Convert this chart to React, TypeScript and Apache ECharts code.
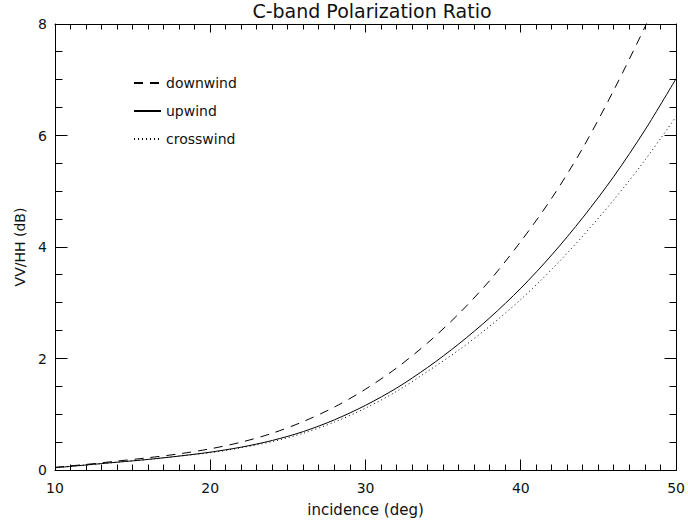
import React, { useEffect, useRef } from "react";
import * as echarts from "echarts";

const incidence = [10, 12, 14, 16, 18, 20, 22, 24, 26, 28, 30, 32, 34, 36, 38, 40, 42, 44, 46, 48, 50];
const downwind = [0.05, 0.1, 0.16, 0.22, 0.29, 0.38, 0.5, 0.66, 0.87, 1.13, 1.45, 1.83, 2.28, 2.8, 3.4, 4.1, 4.88, 5.78, 6.82, 7.95, 9.15];
const upwind = [0.04, 0.09, 0.14, 0.19, 0.25, 0.32, 0.41, 0.53, 0.69, 0.9, 1.16, 1.47, 1.84, 2.26, 2.73, 3.26, 3.86, 4.53, 5.27, 6.1, 7.02];
const crosswind = [0.04, 0.09, 0.14, 0.19, 0.25, 0.31, 0.4, 0.51, 0.66, 0.86, 1.11, 1.41, 1.77, 2.15, 2.58, 3.06, 3.6, 4.2, 4.85, 5.56, 6.34];

const xTicks = [10, 20, 30, 40, 50];
const yTicks = [0, 2, 4, 6, 8];
const X_MIN = 10, X_MAX = 50, X_STEP = 10, X_MINOR = 10;
const Y_MIN = 0, Y_MAX = 8, Y_STEP = 2, Y_MINOR = 4;

const FONT = "DejaVu Sans";
const INK = "#000";

export default function App() {
  const ref = useRef<HTMLDivElement>(null);
  useEffect(() => {
    if (!ref.current) return;
    const chart = echarts.init(ref.current, null, { renderer: "svg" });
    const pairs = (ys: number[]) => incidence.map((x, i) => [x, ys[i]]);
    const lineSeries = (name: string, ys: number[], type: any) => ({
      name,
      type: "line",
      data: pairs(ys),
      smooth: 0.3,
      symbol: "none",
      lineStyle: { color: "#000", width: 1, type },
      itemStyle: { color: "transparent", borderWidth: 0 },
    });
    const axisBase = (min: number, max: number, step: number) => ({
      type: "value",
      min,
      max,
      interval: step,
      axisLine: { show: true, onZero: false, lineStyle: { color: INK, width: 1 } },
      axisTick: { show: false },
      minorTick: { show: false },
      splitLine: { show: false },
    });
    chart.setOption({
      animation: false,
      title: {
        text: "C-band Polarization Ratio",
        left: 367,
        textAlign: "center",
        top: -4,
        textStyle: { fontFamily: FONT, fontSize: 19, fontWeight: "normal", color: "#111" },
      },
      legend: {
        orient: "vertical",
        left: 128,
        top: 71,
        itemWidth: 27,
        itemHeight: 14,
        itemGap: 14,
        data: ["downwind", "upwind", "crosswind"],
        textStyle: { fontFamily: FONT, fontSize: 14, color: "#111" },
      },
      grid: { left: 55, top: 24, width: 625, height: 446 },
      xAxis: [
        {
          ...axisBase(X_MIN, X_MAX, X_STEP),
          axisLabel: {
            fontFamily: FONT,
            fontSize: 14,
            color: "#111",
            margin: 11,
            formatter: (v: number) => (xTicks.includes(v) ? String(v) : ""),
          },
          name: "incidence (deg)",
          nameLocation: "middle",
          nameGap: 32,
          nameTextStyle: { fontFamily: FONT, fontSize: 15, color: "#111" },
        },
        { ...axisBase(X_MIN, X_MAX, X_STEP), position: "top", axisLabel: { show: false } },
      ],
      yAxis: [
        {
          ...axisBase(Y_MIN, Y_MAX, Y_STEP),
          axisLabel: {
            fontFamily: FONT,
            fontSize: 14,
            color: "#111",
            margin: 8,
            formatter: (v: number) => (yTicks.includes(v) ? String(v) : ""),
          },
          name: "VV/HH (dB)",
          nameLocation: "middle",
          nameGap: 26,
          nameRotate: 90,
          nameTextStyle: { fontFamily: FONT, fontSize: 14, color: "#111" },
        },
        { ...axisBase(Y_MIN, Y_MAX, Y_STEP), position: "right", axisLabel: { show: false } },
      ],
      series: [
        lineSeries("downwind", downwind, [9, 7]),
        lineSeries("upwind", upwind, "solid"),
        lineSeries("crosswind", crosswind, [1, 3]),
      ],
    });

    // tick marks placed through the chart's own scales
    const px = (x: number, y: number) => chart.convertToPixel({ xAxisIndex: 0, yAxisIndex: 0 }, [x, y]) as number[];
    const crisp = (v: number) => Math.round(v - 0.5) + 0.5;
    const [xl, yb] = px(X_MIN, Y_MIN);
    const [xr, yt] = px(X_MAX, Y_MAX);
    const L = crisp(xl), R = crisp(xr), B = crisp(yb), T = crisp(yt);
    const elements: any[] = [];
    const seg = (x1: number, y1: number, x2: number, y2: number) =>
      elements.push({
        type: "line",
        silent: true,
        z: 100,
        shape: { x1, y1, x2, y2 },
        style: { stroke: INK, lineWidth: 1 },
      });
    const nx = ((X_MAX - X_MIN) / X_STEP) * X_MINOR;
    for (let i = 0; i <= nx; i++) {
      const v = X_MIN + (i * X_STEP) / X_MINOR;
      const x = crisp(px(v, Y_MIN)[0]);
      const major = i % X_MINOR === 0;
      seg(x, B, x, B - (major ? 11 : 6));
      seg(x, T, x, T + (major ? 8 : 5));
    }
    const ny = ((Y_MAX - Y_MIN) / Y_STEP) * Y_MINOR;
    for (let i = 0; i <= ny; i++) {
      const v = Y_MIN + (i * Y_STEP) / Y_MINOR;
      const y = crisp(px(X_MIN, v)[1]);
      const len = i % Y_MINOR === 0 ? 12 : 7;
      seg(L, y, L + len, y);
      seg(R, y, R - len, y);
    }
    chart.setOption({ graphic: { elements } });
    return () => chart.dispose();
  }, []);
  return <div ref={ref} style={{ width: 688, height: 522, position: "absolute", left: 0, top: 0, background: "#fff" }} />;
}
